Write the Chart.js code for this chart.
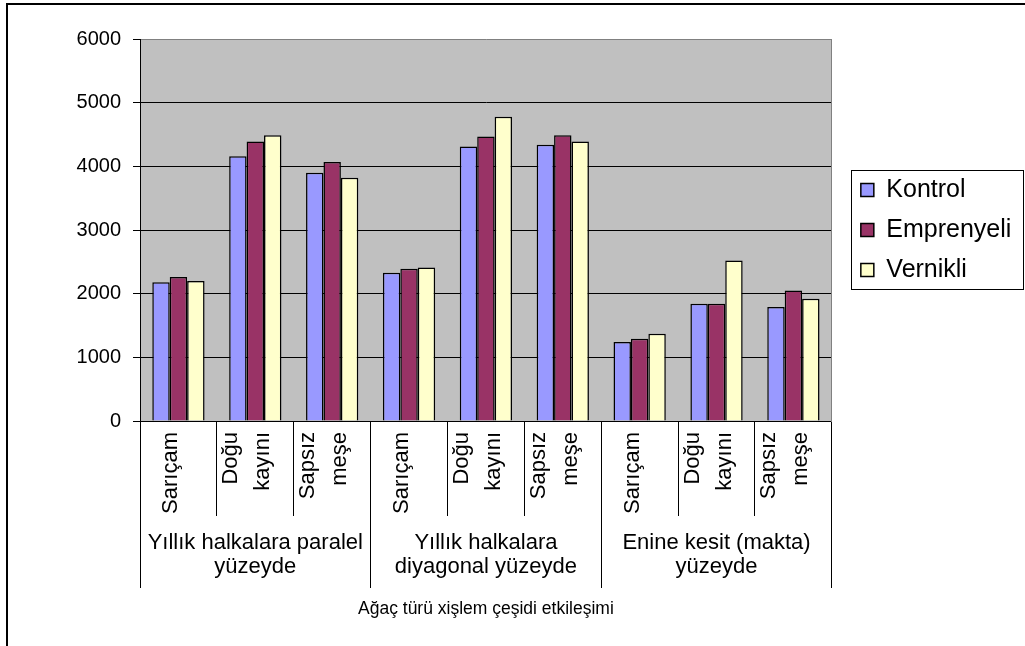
<!DOCTYPE html>
<html>
<head>
<meta charset="utf-8">
<title>Ağaç türü xişlem çeşidi etkileşimi</title>
<script src="https://cdn.jsdelivr.net/npm/chart.js@4/dist/chart.umd.min.js"></script>
<style>
  html, body { margin: 0; padding: 0; background: #fff; overflow: hidden; }
  #frame { position: absolute; left: 6px; top: 3px; width: 1100px; height: 700px;
           border-left: 2px solid #000; border-top: 2px solid #000; }
  #c { position: absolute; left: 0; top: 0; }
</style>
</head>
<body>
<div id="frame"></div>
<canvas id="c" width="1025" height="646"></canvas>
<script>
// Wood species within each surface type
const categories = [
  ['Sarıçam'], ['Doğu', 'kayını'], ['Sapsız', 'meşe'],
  ['Sarıçam'], ['Doğu', 'kayını'], ['Sapsız', 'meşe'],
  ['Sarıçam'], ['Doğu', 'kayını'], ['Sapsız', 'meşe']
];
// Surface type, written under the middle species of each group of three
const groupLabels = [
  '', ['Yıllık halkalara paralel', 'yüzeyde'], '',
  '', ['Yıllık halkalara', 'diyagonal yüzeyde'], '',
  '', ['Enine kesit (makta)', 'yüzeyde'], ''
];
const seriesNames = ['Kontrol', 'Emprenyeli', 'Vernikli'];
const kontrol    = [2180, 4160, 3900, 2330, 4310, 4340, 1240, 1840, 1790];
const emprenyeli = [2260, 4390, 4070, 2390, 4470, 4490, 1290, 1840, 2050];
const vernikli   = [2200, 4490, 3820, 2410, 4780, 4390, 1370, 2520, 1920];
const yMin = 0, yMax = 6000, yStep = 1000;
const xTitle = 'Ağaç türü xişlem çeşidi etkileşimi';

const FONT = "'Liberation Sans', Arial, Helvetica, sans-serif";
const colors = ['#9999FF', '#993366', '#FFFFCC'];
const groupSize = 3;

// Grey plot background
const plotBackground = {
  id: 'plotBackground',
  beforeDraw(chart) {
    const a = chart.chartArea, ctx = chart.ctx;
    ctx.save();
    ctx.fillStyle = '#C0C0C0';
    ctx.fillRect(a.left, a.top, a.right - a.left, a.bottom - a.top);
    ctx.restore();
  }
};

// Frame round the legend entries
const legendFrame = {
  id: 'legendFrame',
  afterDraw(chart) {
    const lg = chart.legend;
    if (!lg || !lg.legendHitBoxes || !lg.legendHitBoxes.length) return;
    const hb = lg.legendHitBoxes;
    const last = hb[hb.length - 1];
    const left = hb[0].left - 10;
    const top = hb[0].top - 8;
    const bottom = last.top + last.height + 6;
    const right = chart.width - 2;
    const ctx = chart.ctx;
    ctx.save();
    ctx.strokeStyle = '#000';
    ctx.lineWidth = 1;
    ctx.strokeRect(Math.round(left) + 0.5, Math.round(top) + 0.5,
                   Math.round(right - left), Math.round(bottom - top));
    ctx.restore();
  }
};

const makeSet = (label, data, i) => ({
  label, data,
  backgroundColor: colors[i],
  borderColor: '#000',
  borderWidth: 1.5,
  barPercentage: 1.0,
  categoryPercentage: 0.68
});

new Chart(document.getElementById('c'), {
  type: 'bar',
  data: {
    labels: categories,
    datasets: [
      makeSet(seriesNames[0], kontrol, 0),
      makeSet(seriesNames[1], emprenyeli, 1),
      makeSet(seriesNames[2], vernikli, 2)
    ]
  },
  options: {
    responsive: false,
    animation: false,
    devicePixelRatio: 1,
    layout: { padding: { top: 39, left: 0, right: 10, bottom: 0 } },
    plugins: {
      tooltip: { enabled: false },
      legend: {
        position: 'right',
        fullSize: false,
        align: 'center',
        labels: {
          boxWidth: 13, boxHeight: 13, padding: 15,
          color: '#000',
          font: { family: FONT, size: 25 }
        }
      }
    },
    scales: {
      x: {
        type: 'category',
        position: 'bottom',
        weight: 0,
        offset: true,
        grid: {
          offset: true, drawOnChartArea: false, drawTicks: true,
          tickLength: 95, color: '#000', tickColor: '#000', lineWidth: 1
        },
        border: { display: true, color: '#000', width: 1 },
        ticks: {
          autoSkip: false, minRotation: 90, maxRotation: 90,
          padding: -84, labelOffset: -24, color: '#000',
          callback(value, index) {
            const l = categories[index];
            return l.length === 1 ? ['', l[0]] : l;
          },
          font(c) {
            const l = categories[c.index];
            return { family: FONT, size: 22, lineHeight: (l && l.length === 1) ? '17px' : '32px' };
          }
        },
        afterFit(s) { s.height = 95; }
      },
      group: {
        type: 'category',
        position: 'bottom',
        weight: 1,
        labels: groupLabels,
        offset: true,
        grid: {
          offset: true, drawOnChartArea: false, drawTicks: true, tickLength: 72,
          lineWidth: 1,
          color: c => (c.index === undefined || c.index % groupSize === 0) ? '#000' : 'rgba(0,0,0,0)',
          tickColor: c => (c.index === undefined || c.index % groupSize === 0) ? '#000' : 'rgba(0,0,0,0)'
        },
        border: { display: false },
        ticks: {
          autoSkip: false, minRotation: 0, maxRotation: 0,
          padding: -57.5, color: '#000',
          font: { family: FONT, size: 22, lineHeight: '24px' }
        },
        title: {
          display: true, text: xTitle, color: '#000',
          font: { family: FONT, size: 17.5 },
          padding: { top: 0, bottom: 26.5 }
        },
        afterFit(s) { s.height = 130; }
      },
      y: {
        type: 'linear',
        position: 'left',
        min: yMin, max: yMax,
        grid: {
          color: c => (c.tick && c.tick.value === yMax) ? '#808080' : '#000',
          tickColor: '#000', tickLength: 7, lineWidth: 1
        },
        border: { display: true, color: '#000', width: 1 },
        ticks: {
          stepSize: yStep, padding: 12, color: '#000',
          font: { family: FONT, size: 20 },
          callback: v => String(v)
        },
        afterFit(s) { s.width = 140; }
      },
      yr: {
        type: 'linear',
        position: 'right',
        display: true,
        grid: { display: false, drawTicks: false },
        ticks: { display: false },
        border: { display: true, color: '#808080', width: 1 },
        afterFit(s) { s.width = 14; }
      }
    }
  },
  plugins: [plotBackground, legendFrame]
});
</script>
</body>
</html>
